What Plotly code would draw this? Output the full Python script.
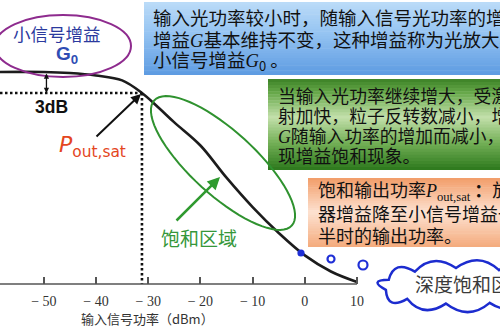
import math
import plotly.graph_objects as go

W, H = 500, 332

# Gain-saturation curve of an optical amplifier: gain (dB) vs input signal power (dBm)
input_dbm = [-60, -50, -45, -40, -35, -31.2, -28, -25, -20, -15, -10, -5, 0, 5, 10]
gain_db = [30.0, 30.0, 29.85, 29.5, 28.8, 27.0, 24.9, 22.8, 19.5, 14.9, 10.7, 7.0, 3.8, 1.5, 0.0]
g0_db = 30.0          # small-signal gain
p_sat_in = -31.2      # input power where gain has dropped by 3 dB

tick_vals = [-60, -50, -40, -30, -20, -10, 0, 10]
tick_text = ["− 60", "− 50", "− 40", "− 30", "− 20", "− 10", "0", "10"]
x_title = "输入信号功率（dBm）"

x_range = [-58.4, 37.4]
y_range = [-0.29, 40.29]
axis_bottom_frac = (H - 284) / H

CJK = "Noto Sans CJK SC"
SERIF = "Liberation Serif"


def px(x):
    return x / W


def py(y):
    return 1 - y / H


def mix(c1, c2, t):
    a = [int(c1[i:i + 2], 16) for i in (1, 3, 5)]
    b = [int(c2[i:i + 2], 16) for i in (1, 3, 5)]
    return "#" + "".join(f"{round(a[i] + (b[i] - a[i]) * t):02x}" for i in range(3))


def gradient_box(x0, y0, x1, y1, stops, n=30):
    shapes = []
    for i in range(n):
        t = (i + 0.5) / n
        for j in range(len(stops) - 1):
            if stops[j][0] <= t <= stops[j + 1][0]:
                u = (t - stops[j][0]) / (stops[j + 1][0] - stops[j][0])
                col = mix(stops[j][1], stops[j + 1][1], u)
                break
        ya = y0 + (y1 - y0) * i / n
        yb = y0 + (y1 - y0) * (i + 1) / n + 0.6
        shapes.append(dict(type="rect", xref="paper", yref="paper",
                           x0=px(x0), x1=px(x1), y0=py(min(yb, y1)), y1=py(ya),
                           fillcolor=col, line=dict(width=0), layer="below"))
    return shapes


def rotated_ellipse(cx, cy, a, b, ang_deg, n=72):
    th = math.radians(ang_deg)
    pts = []
    for i in range(n):
        t = 2 * math.pi * i / n
        x = cx + a * math.cos(t) * math.cos(th) - b * math.sin(t) * math.sin(th)
        y = cy + a * math.cos(t) * math.sin(th) + b * math.sin(t) * math.cos(th)
        pts.append(f"{px(x):.5f},{py(y):.5f}")
    return "M " + " L ".join(pts) + " Z"


def cloud(cx, cy, rx, ry, n, bulge, start):
    def base(t):
        return cx + rx * math.cos(t), cy + ry * math.sin(t)

    def normal(t):
        nx, ny = math.cos(t) / rx, math.sin(t) / ry
        L = math.hypot(nx, ny)
        return nx / L, ny / L

    x0, y0 = base(start)
    d = f"M {px(x0):.5f},{py(y0):.5f}"
    for i in range(n):
        tm = start + 2 * math.pi * (i + 0.5) / n
        te = start + 2 * math.pi * (i + 1) / n
        bx, by = base(tm)
        nx, ny = normal(tm)
        qx, qy = bx + nx * bulge, by + ny * bulge
        ex, ey = base(te)
        d += f" Q {px(qx):.5f},{py(qy):.5f} {px(ex):.5f},{py(ey):.5f}"
    return d + " Z"


fig = go.Figure()
fig.add_trace(go.Scatter(
    x=input_dbm, y=gain_db, mode="lines",
    line=dict(color="#1c1c1c", width=2.6, shape="spline", smoothing=1.0),
    hoverinfo="skip", showlegend=False))

shapes = []
# Text panels
shapes += gradient_box(144, 2, 500, 75, [(0, "#bcdcf8"), (0.45, "#93c2f1"), (1, "#5d9be2")])
shapes += gradient_box(268, 79, 500, 170, [(0, "#3c8226"), (0.15, "#67a84a"), (0.42, "#c3e0ab"),
                                           (0.7, "#74b057"), (1, "#2c781c")])
shapes += gradient_box(308, 178, 500, 247, [(0, "#f29d69"), (0.5, "#fde2d1"), (1, "#f4aa7c")])

# 3 dB reference lines and axis line
shapes.append(dict(type="line", xref="x", yref="y", x0=x_range[0], x1=p_sat_in,
                   y0=g0_db - 3, y1=g0_db - 3,
                   line=dict(color="#111111", width=2.6, dash="2.5px,2.5px")))
shapes.append(dict(type="line", xref="x", yref="y", x0=p_sat_in, x1=p_sat_in,
                   y0=g0_db - 3, y1=y_range[0],
                   line=dict(color="#111111", width=2.6, dash="2.5px,2.5px")))
shapes.append(dict(type="line", xref="x", yref="y domain", x0=tick_vals[0], x1=tick_vals[-1],
                   y0=0, y1=0, line=dict(color="#555555", width=1.5)))

# Small-signal gain ellipse
shapes.append(dict(type="circle", xref="paper", yref="paper",
                   x0=px(-5), x1=px(131), y0=py(77), y1=py(15),
                   line=dict(color="#8e2b8e", width=2)))
# Saturation region ellipse
shapes.append(dict(type="path", xref="paper", yref="paper",
                   path=rotated_ellipse(223, 163, 93, 32, 42.3),
                   line=dict(color="#2f922f", width=2)))

# Thought bubble for the deep-saturation region
for (cx, cy, r, filled) in [(301, 253, 2.5, True), (331, 259, 3.5, False), (363, 265, 4.5, False)]:
    shapes.append(dict(type="circle", xref="paper", yref="paper",
                       x0=px(cx - r), x1=px(cx + r), y0=py(cy + r), y1=py(cy - r),
                       fillcolor="#1f2fd6" if filled else "rgba(0,0,0,0)",
                       line=dict(color="#1f2fd6", width=2.2)))
shapes.append(dict(type="path", xref="paper", yref="paper",
                   path=cloud(462, 286, 78, 18, 11, 17, math.pi * 0.93),
                   fillcolor="white", line=dict(color="#1c2ccf", width=2.5)))

ann = []


def text(x, y, s, size, color="#111111", family=CJK, anchor="left"):
    ann.append(dict(x=px(x), y=py(y), xref="paper", yref="paper", text=s, showarrow=False,
                    xanchor=anchor, yanchor="middle", font=dict(family=family, size=size, color=color)))


G = f'<i><span style="font-family:{SERIF}">G</span></i>'
P = f'<i><span style="font-family:{SERIF}">P</span></i>'

blue_lines = ["输入光功率较小时，随输入信号光功率的增加，",
              f"增益{G}基本维持不变，这种增益称为光放大器的",
              f"小信号增益{G}<sub>0</sub> 。"]
for i, s in enumerate(blue_lines):
    text(151, 17 + 21.5 * i, s, 18.5)

green_lines = ["当输入光功率继续增大，受激辐",
               "射加快，粒子反转数减小，增益",
               f"{G}随输入功率的增加而减小，出",
               "现增益饱和现象。"]
for i, s in enumerate(green_lines):
    text(276, 95 + 20 * i, s, 17.8)

orange_lines = [f"饱和输出功率{P}<sub><span style=\"font-family:{SERIF}\">out,sat</span></sub> <b>：</b>放大",
                "器增益降至小信号增益一",
                "半时的输出功率。"]
for i, s in enumerate(orange_lines):
    text(316, 190 + 22.5 * i, s, 18)

text(57, 33, "小信号增益", 17.5, color="#2b3a9e", anchor="center")
text(67, 55, "<b>G<sub>0</sub></b>", 19, color="#2f4db4", family="Liberation Sans", anchor="center")
text(51, 107, "<b>3dB</b>", 17.5, color="#111111", family="Liberation Sans", anchor="center")
text(92, 147, "<i>P</i><sub>out,sat</sub>", 22, color="#e4461e", family="DejaVu Sans", anchor="center")
text(199, 237, "饱和区域", 19, color="#35973a", anchor="center")
text(413, 283, "深度饱和区", 19, color="#3a3a3a")
text(147, 318, x_title, 13, color="#333333", anchor="center")

# 3 dB double-headed arrow between G0 and G0-3 dB
ann.append(dict(x=input_dbm[1] + 0.5, y=g0_db - 3, xref="x", yref="y",
                ax=input_dbm[1] + 0.5, ay=g0_db, axref="x", ayref="y", text="",
                showarrow=True, arrowside="end+start", arrowhead=2, startarrowhead=2,
                arrowsize=0.8, startarrowsize=0.8, arrowwidth=1.3, arrowcolor="#111111",
                standoff=0, startstandoff=0))
# Arrow pointing at the saturation output power point
ann.append(dict(x=px(141), y=py(94), xref="paper", yref="paper", ax=-46, ay=44, text="",
                showarrow=True, arrowhead=2, arrowsize=1, arrowwidth=2, arrowcolor="#111111",
                standoff=0))
# Arrow toward the saturation region
ann.append(dict(x=px(220), y=py(177), xref="paper", yref="paper", ax=-45, ay=45, text="",
                showarrow=True, arrowhead=2, arrowsize=1, arrowwidth=2.5, arrowcolor="#2f9a2f",
                standoff=0))

fig.update_layout(
    width=W, height=H, margin=dict(l=0, r=0, t=0, b=0),
    paper_bgcolor="white", plot_bgcolor="white",
    shapes=shapes, annotations=ann, showlegend=False,
    xaxis=dict(range=x_range, tickvals=tick_vals, ticktext=tick_text, ticks="inside",
               ticklen=7, tickwidth=1.5, tickcolor="#555555", showgrid=False, zeroline=False,
               showline=False, ticklabelstandoff=7,
               tickfont=dict(family=SERIF, size=14, color="#333333")),
    yaxis=dict(range=y_range, domain=[axis_bottom_frac, 1], visible=False,
               showgrid=False, zeroline=False),
)

fig.write_html("out.html")
